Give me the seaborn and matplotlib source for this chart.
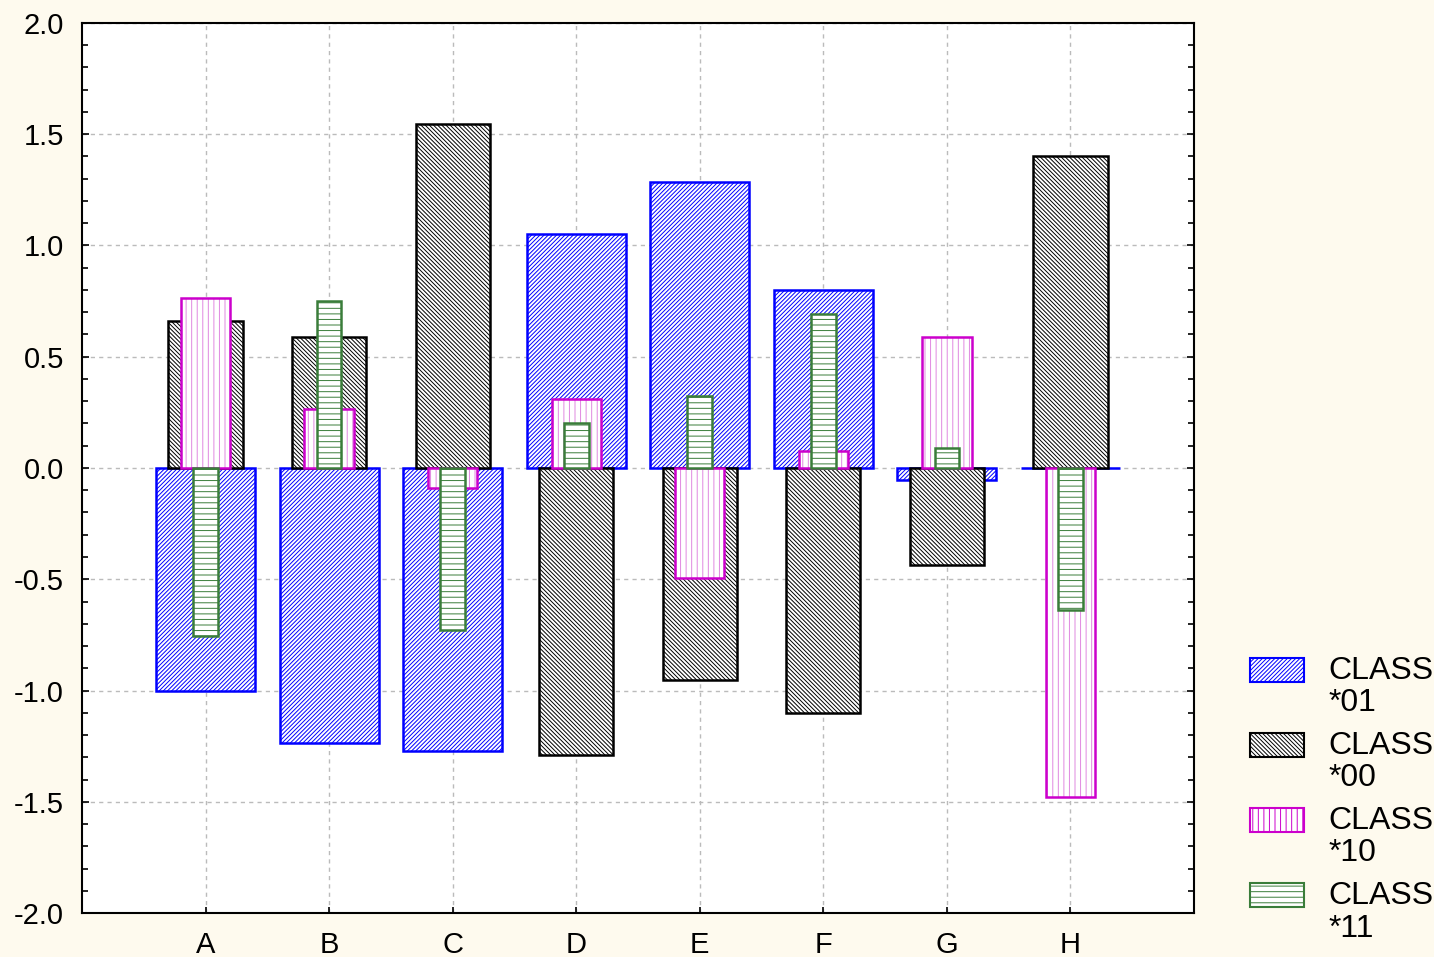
import numpy as np
import matplotlib
matplotlib.use("Agg")
import matplotlib.pyplot as plt
import seaborn as sns
from matplotlib.patches import Patch, Rectangle
from matplotlib.legend_handler import HandlerPatch
from matplotlib.ticker import MultipleLocator

# 데이터
categories = ["A", "B", "C", "D", "E", "F", "G", "H"]
class_01 = [-1.00, -1.235, -1.27, 1.05, 1.285, 0.80, -0.055, 0.0]
class_00 = [0.66, 0.59, 1.545, -1.29, -0.955, -1.10, -0.435, 1.40]
class_10 = [0.765, 0.265, -0.09, 0.31, -0.495, 0.075, 0.59, -1.48]
class_11 = [-0.755, 0.75, -0.73, 0.20, 0.325, 0.69, 0.09, -0.64]
series_labels = ["CLASS\n*01", "CLASS\n*00", "CLASS\n*10", "CLASS\n*11"]

bg = "#FEFAEE"
sns.set_style("white")
plt.rcParams["font.family"] = ["Liberation Sans", "DejaVu Sans"]
plt.rcParams["hatch.linewidth"] = 0.7
plt.rcParams["text.color"] = "black"
plt.rcParams["xtick.color"] = "black"
plt.rcParams["ytick.color"] = "black"

fig = plt.figure(figsize=(14.34, 9.57), dpi=100, facecolor=bg)
ax = fig.add_axes([82 / 1434, 44 / 957, 1112 / 1434, 890 / 957])
ax.set_facecolor("white")

# (값, 폭, 테두리색, 해치색, 해치)
styles = [
    (class_01, 0.8, "#0000FF", "#0000FF", "////////"),
    (class_00, 0.6, "#000000", "#000000", "\\\\\\\\\\\\\\\\"),
    (class_10, 0.4, "#CC00CC", "#E088E0", "|||"),
    (class_11, 0.2, "#3A7D3A", "#3A7D3A", "---"),
]

z = 2
for vals, w, ec, hc, h in styles:
    # 해치 먼저, 그 위에 테두리
    sns.barplot(x=categories, y=vals, width=w, color="white", saturation=1,
                edgecolor=hc, hatch=h, linewidth=0, ax=ax, zorder=z)
    sns.barplot(x=categories, y=vals, width=w, fill=False, color=ec,
                edgecolor=ec, linewidth=1.8, ax=ax, zorder=z + 0.5)
    z += 1

ax.set_xlim(-1, 8)
ax.set_ylim(-2.0, 2.0)
ax.yaxis.set_major_locator(MultipleLocator(0.5))
ax.yaxis.set_minor_locator(MultipleLocator(0.1))
ax.set_yticklabels([f"{v:.1f}" for v in ax.get_yticks()])
ax.grid(True, which="major", color="#BBBBBB", linestyle=(0, (3, 3)), linewidth=1)
ax.set_axisbelow(True)
ax.tick_params(axis="both", which="both", direction="in", labelsize=21,
               left=True, right=True, bottom=True, top=False, width=1.2)
ax.tick_params(axis="y", which="major", length=5, pad=13)
ax.tick_params(axis="y", which="minor", length=4)
ax.tick_params(axis="x", which="major", length=4, pad=13)
ax.set_xlabel("")
ax.set_ylabel("")
for s in ax.spines.values():
    s.set_visible(True)
    s.set_color("black")
    s.set_linewidth(1.5)


def top_patch(legend, orig_handle, xdescent, ydescent, width, height, fontsize):
    # 두 줄 라벨의 첫 줄에 맞추기
    return Rectangle((-xdescent, -ydescent + 0.55 * fontsize), width, height)


handles = []
for (vals, w, ec, hc, h), lab in zip(styles, series_labels):
    handles.append(Patch(facecolor="white", edgecolor=ec, hatch=h, linewidth=1.5, label=lab))
leg = fig.legend(handles=handles, loc="upper left", bbox_to_anchor=(1250 / 1434, 1 - 656 / 957),
                 frameon=False, fontsize=23, handlelength=1.7, handleheight=0.78,
                 labelspacing=0.4, handletextpad=0.75, borderpad=0, borderaxespad=0,
                 handler_map={Patch: HandlerPatch(patch_func=top_patch)})
for t in leg.get_texts():
    t.set_linespacing(1.1)

fig.savefig("out.png", dpi=100, facecolor=bg)
